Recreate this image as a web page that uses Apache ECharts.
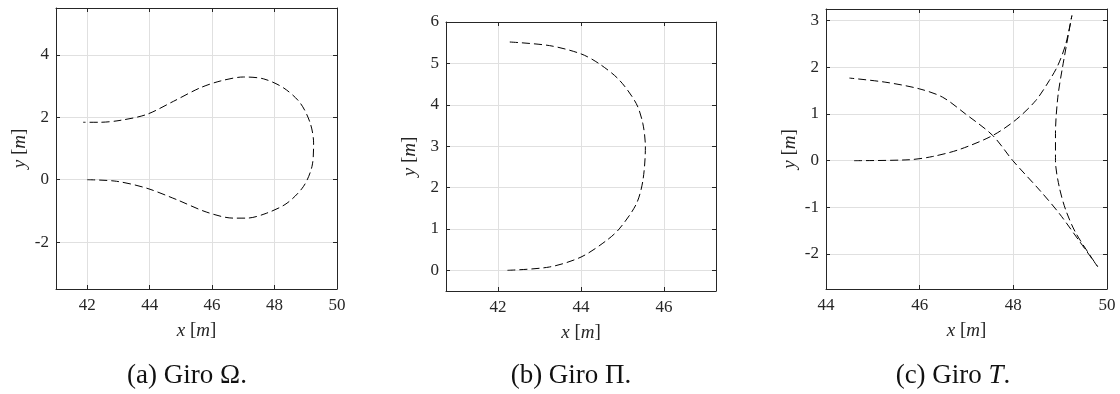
<!DOCTYPE html>
<html>
<head>
<meta charset="utf-8">
<script src="https://cdn.jsdelivr.net/npm/echarts@6/dist/echarts.min.js"></script>
<style>
  html, body { margin: 0; padding: 0; background: #fff; }
  #chart { width: 1120px; height: 394px; }
</style>
</head>
<body>
<div id="chart"></div>
<script>
// Giro Omega path (x, y in metres)
const omegaX = [42, 42.94, 43.9, 44.87, 45.83, 46.68, 47.11, 47.75, 48.4, 48.93, 49.2, 49.25, 49.14, 48.82, 48.29, 47.65, 47.0, 46.26, 45.61, 44.76, 43.9, 43.05, 42.4, 41.87]
const omegaY = [0, -0.05, -0.27, -0.64, -1.04, -1.23, -1.23, -1.07, -0.75, -0.21, 0.43, 1.18, 1.82, 2.46, 2.94, 3.23, 3.29, 3.16, 2.94, 2.51, 2.09, 1.9, 1.84, 1.84]

// Giro Pi path
const piX = [42.23, 43.24, 44.0, 44.6, 44.92, 45.33, 45.49, 45.55, 45.49, 45.33, 44.92, 44.44, 44.0, 43.24, 42.23]
const piY = [0, 0.08, 0.32, 0.71, 1.0, 1.6, 2.17, 2.98, 3.54, 4.03, 4.6, 4.99, 5.23, 5.43, 5.52]

// Giro T path (forward, reverse, forward)
const tX = [44.6, 45.78, 46.28, 46.85, 47.56, 48.06, 48.48, 48.77, 48.95, 49.12, 49.25,
  49.05, 48.95, 48.9, 48.9, 48.98, 49.12, 49.34, 49.8,
  49.4, 48.98, 48.56, 47.99, 47.56, 46.98, 46.49, 45.99, 45.28, 44.5]
const tY = [0, 0.02, 0.09, 0.24, 0.54, 0.88, 1.29, 1.72, 2.04, 2.5, 3.11,
  2.0, 1.36, 0.58, 0, -0.56, -1.06, -1.56, -2.27,
  -1.71, -1.13, -0.63, 0, 0.54, 1.0, 1.36, 1.54, 1.68, 1.77]

// Axis ranges and tick steps
const xRanges = [[41, 50], [40.75, 47.25], [44, 50]]
const yRanges = [[-3.5, 5.5], [-0.5, 6], [-2.75, 3.25]]
const xSteps = [2, 2, 2]
const ySteps = [2, 1, 1]
const captions = ['(a) Giro Ω.', '(b) Giro Π.', '(c) Giro {i|T}.']

const grids = [
  { left: 56, top: 8, width: 281, height: 281 },
  { left: 446, top: 22, width: 270, height: 269 },
  { left: 826, top: 9, width: 281, height: 280 },
]
const captionX = [187, 571, 953]

const fontFamily = 'Liberation Serif, DejaVu Serif, serif'
const ink = '#262626'

const onStep = (v, step) => Math.abs(v / step - Math.round(v / step)) < 1e-6

const makeAxis = (kind, i, range, step, secondary) => {
  const ax = {
    type: 'value',
    gridIndex: i,
    min: range[0],
    max: range[1],
    minInterval: step,
    maxInterval: step,
    position: secondary ? (kind === 'x' ? 'top' : 'right') : (kind === 'x' ? 'bottom' : 'left'),
    axisLine: { show: true, onZero: false, lineStyle: { color: ink, width: 1 } },
    axisTick: { show: true, inside: true, length: 4, lineStyle: { color: ink } },
    splitLine: { show: !secondary, lineStyle: { color: '#e0e0e0', width: 1 } },
    axisLabel: {
      show: !secondary,
      color: ink,
      fontFamily,
      fontSize: 17,
      margin: kind === 'x' ? 8 : 7,
      showMinLabel: true,
      showMaxLabel: true,
      formatter: v => (onStep(v, step) ? String(Math.round(v)) : ''),
    },
  }
  if (!secondary) {
    ax.name = kind === 'x' ? '{i|x} [{i|m}]' : '{i|y} [{i|m}]'
    ax.nameLocation = 'middle'
    ax.nameGap = kind === 'x' ? 32 : 27
    ax.nameTextStyle = {
      color: ink,
      fontFamily,
      fontSize: 19,
      rich: { i: { fontStyle: 'italic', fontFamily, fontSize: 19, color: ink } },
    }
  }
  return ax
}

const xAxis = []
const yAxis = []
const series = []
const paths = [[omegaX, omegaY], [piX, piY], [tX, tY]]

paths.forEach((p, i) => {
  xAxis.push(makeAxis('x', i, xRanges[i], xSteps[i], false))
  xAxis.push(makeAxis('x', i, xRanges[i], xSteps[i], true))
  yAxis.push(makeAxis('y', i, yRanges[i], ySteps[i], false))
  yAxis.push(makeAxis('y', i, yRanges[i], ySteps[i], true))
  series.push({
    type: 'line',
    xAxisIndex: i * 2,
    yAxisIndex: i * 2,
    data: p[0].map((x, k) => [x, p[1][k]]),
    smooth: 0.3,
    showSymbol: false,
    silent: true,
    lineStyle: { color: '#000', width: 1, type: [8, 4] },
  })
})

const chart = echarts.init(document.getElementById('chart'), null, { renderer: 'canvas' })

chart.setOption({
  animation: false,
  backgroundColor: '#fff',
  grid: grids.map(g => ({ ...g, containLabel: false })),
  xAxis,
  yAxis,
  series,
  graphic: captions.map((c, i) => ({
    type: 'text',
    x: captionX[i],
    y: 376,
    style: {
      text: c,
      align: 'center',
      verticalAlign: 'middle',
      fill: '#111',
      font: '27px ' + fontFamily,
      rich: {
        i: { fontFamily, fontSize: 27, fontStyle: 'italic', fill: '#111' },
      },
    },
  })),
})
</script>
</body>
</html>
